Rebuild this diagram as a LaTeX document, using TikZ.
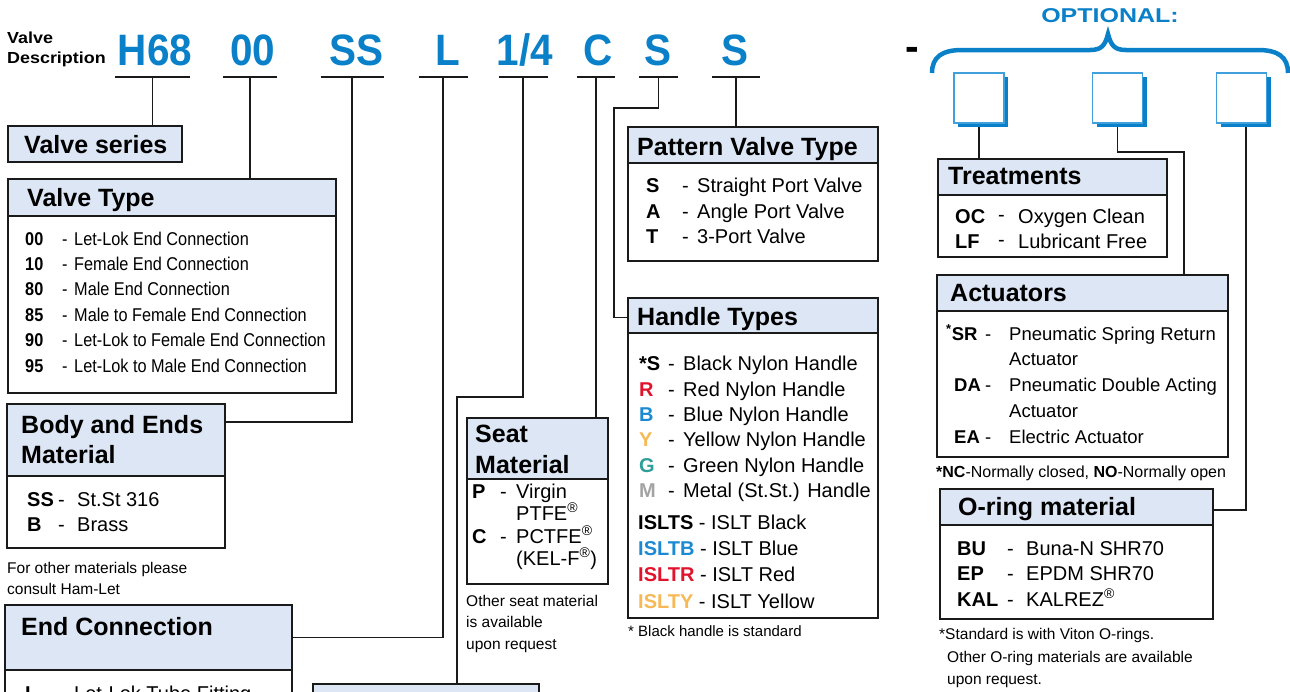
\documentclass[tikz,border=0pt]{standalone}
\usepackage{fontspec}
\setmainfont{Liberation Sans}
\newfontfamily\narrowfont[FakeStretch=0.88]{Liberation Sans}
\newfontfamily\codefont[FakeStretch=0.92]{Liberation Sans}
\usetikzlibrary{calc}
\definecolor{hdrblue}{HTML}{DCE6F4}
\definecolor{codeblue}{HTML}{0A80C8}
\definecolor{sqlight}{HTML}{3FA0DC}
\definecolor{linec}{HTML}{1A1A1A}
\definecolor{hred}{HTML}{E2142D}
\definecolor{hblue}{HTML}{1C8AD2}
\definecolor{hyellow}{HTML}{F6B955}
\definecolor{hgreen}{HTML}{2E9E9A}
\definecolor{hgray}{HTML}{A3A3A3}
\newcommand{\fsz}[1]{\fontsize{#1}{#1}\selectfont}
\tikzset{
  boxbody/.style={draw=linec, line width=1.3pt, fill=white, anchor=north west, inner sep=0pt, outer sep=0pt},
  boxhead/.style={boxbody, fill=hdrblue},
  conn/.style={draw=linec, line width=1.3pt},
  ulinenode/.style={inner sep=0pt, outer sep=0pt, minimum height=0pt},
  ulinestroke/.style={draw=linec, line width=1.3pt},
  bigcode/.style={text=codeblue, font=\codefont\bfseries\fsz{44}, anchor=base, inner sep=0pt},
  ttl/.style={font=\bfseries\fsz{16}, anchor=base west, inner sep=0pt},
  htext/.style={font=\bfseries\fsz{25}, anchor=base west, inner sep=0pt},
  itm/.style={font=\fsz{20}, anchor=base west, inner sep=0pt},
  itmb/.style={font=\bfseries\fsz{20}, anchor=base west, inner sep=0pt},
  aitm/.style={font=\fsz{18.5}, anchor=base west, inner sep=0pt},
  aitmb/.style={font=\bfseries\fsz{18.5}, anchor=base west, inner sep=0pt},
  nitm/.style={font=\narrowfont\fsz{18.5}, anchor=base west, inner sep=0pt},
  nitmb/.style={font=\narrowfont\bfseries\fsz{18.5}, anchor=base west, inner sep=0pt},
  note/.style={font=\fsz{15.5}, anchor=base west, inner sep=0pt},
  sqshadow/.style={fill=codeblue, draw=none, inner sep=0pt, minimum width=50pt, minimum height=50pt},
  sqbox/.style={fill=white, draw=sqlight, line width=1.3pt, inner sep=0pt, minimum width=50pt, minimum height=50pt},
  bracepath/.style={draw=codeblue, line width=4.5pt}
}
\begin{document}
\begin{tikzpicture}[x=1pt,y=-1pt]
\useasboundingbox (0,0) rectangle (1290,691);
\clip (0,0) rectangle (1290,691);

% ---------- title and code line ----------
\node[ttl] (vd1) at (7,43) {\scalebox{1.12}[1]{Valve}};
\node[ttl] (vd2) at (7,63) {\scalebox{1.12}[1]{Description}};

\node[bigcode] (c1) at (155,65) {H68};
\node[bigcode] (c2) at (253,65) {00};
\node[bigcode] (c3) at (356,65) {SS};
\node[bigcode] (c4) at (448,65) {L};
\node[bigcode] (c5) at (525,65) {1/4};
\node[bigcode] (c6) at (598,65) {C};
\node[bigcode] (c7) at (658,65) {S};
\node[bigcode] (c8) at (735,65) {S};
\node[anchor=base west, font=\bfseries\fsz{41}, inner sep=0pt] (dsh) at (905,60) {-};

\node[ulinenode, minimum width=75pt] (u1) at (152.5,77) {};
\node[ulinenode, minimum width=54pt] (u2) at (250,77) {};
\node[ulinenode, minimum width=63pt] (u3) at (352,77) {};
\node[ulinenode, minimum width=49pt] (u4) at (443,77) {};
\node[ulinenode, minimum width=49pt] (u5) at (523,77) {};
\node[ulinenode, minimum width=38pt] (u6) at (596,77) {};
\node[ulinenode, minimum width=39pt] (u7) at (658.5,77) {};
\node[ulinenode, minimum width=48pt] (u8) at (736,77) {};
\foreach \u in {u1,u2,u3,u4,u5,u6,u7,u8} \draw[ulinestroke] (\u.west) -- (\u.east);

% ---------- OPTIONAL brace ----------
\node[anchor=base, text=codeblue, font=\bfseries\fsz{20}, inner sep=0pt] (opt) at (1110,22) {\scalebox{1.25}[1]{OPTIONAL:}};
\draw[bracepath] (932,73) .. controls (932,57) and (942,50) .. (962,50) -- (1090,50)
   .. controls (1101,50) and (1105,46) .. (1108,34) .. controls (1111,46) and (1115,50) .. (1126,50)
   -- (1258,50) .. controls (1278,50) and (1288,57) .. (1288,73);

% ---------- boxes (positions) ----------
\node[boxhead, minimum width=174pt, minimum height=36pt] (vs) at (8,126) {};
\node[htext] (vsT) at (24,153) {Valve series};

\node[boxbody, minimum width=328pt, minimum height=214pt] (vtB) at (8,179) {};
\node[boxhead, minimum width=328pt, minimum height=37pt] (vtH) at (8,179) {};

\node[boxbody, minimum width=218pt, minimum height=144pt] (beB) at (7,404) {};
\node[boxhead, minimum width=218pt, minimum height=72pt] (beH) at (7,404) {};

\node[boxbody, minimum width=287pt, minimum height=130pt] (ecB) at (5,605) {};
\node[boxhead, minimum width=287pt, minimum height=65pt] (ecH) at (5,605) {};

\node[boxhead, minimum width=226pt, minimum height=40pt] (bx) at (313,684) {};

\node[boxbody, minimum width=141pt, minimum height=166pt] (smB) at (467,418) {};
\node[boxhead, minimum width=141pt, minimum height=61pt] (smH) at (467,418) {};

\node[boxbody, minimum width=250pt, minimum height=134pt] (pvB) at (628,127) {};
\node[boxhead, minimum width=250pt, minimum height=36pt] (pvH) at (628,127) {};

\node[boxbody, minimum width=250pt, minimum height=320pt] (htB) at (628,298) {};
\node[boxhead, minimum width=250pt, minimum height=35pt] (htH) at (628,298) {};

\node[boxbody, minimum width=229pt, minimum height=98pt] (trB) at (938,159) {};
\node[boxhead, minimum width=229pt, minimum height=36pt] (trH) at (938,159) {};

\node[boxbody, minimum width=291pt, minimum height=182pt] (acB) at (937,275) {};
\node[boxhead, minimum width=291pt, minimum height=36pt] (acH) at (937,275) {};

\node[boxbody, minimum width=273pt, minimum height=130pt] (orB) at (940,489) {};
\node[boxhead, minimum width=273pt, minimum height=36pt] (orH) at (940,489) {};

% ---------- optional squares ----------
\node[sqshadow] (sq1s) at (983,102) {};
\node[sqbox] (sq1) at (979,98) {};
\node[sqshadow] (sq2s) at (1121.5,102) {};
\node[sqbox] (sq2) at (1117.5,98) {};
\node[sqshadow] (sq3s) at (1245.5,102) {};
\node[sqbox] (sq3) at (1241.5,98) {};

% ---------- connectors ----------
\coordinate (k5) at (523,397);
\coordinate (k5b) at (457,397);
\coordinate (k7) at (614,108);
\coordinate (k9) at (1184,152);
\draw[conn] (u1.center) -- (u1.center |- vs.north);
\draw[conn] (u2.center) -- (u2.center |- vtH.north);
\draw[conn] (u3.center) |- ([yshift=18pt]beH.east);
\draw[conn] (u4.center) |- (ecH.east);
\draw[conn] (u5.center) -- (k5) -- (k5b) -- (k5b |- bx.north);
\draw[conn] (u6.center) -- (u6.center |- smH.north);
\draw[conn] (u7.center) |- (k7) |- ([yshift=-2pt]htH.west);
\draw[conn] (u8.center) -- (u8.center |- pvH.north);
\draw[conn] (sq1s.south -| sq1.south) -- (sq1.south |- trH.north);
\draw[conn] (sq2s.south -| sq2.south) |- (k9) -- (k9 |- acH.north);
\draw[conn] ([xshift=4.5pt]sq3s.south -| sq3.south) |- ([yshift=-3pt]orH.east);

% ---------- texts: Valve Type ----------
\node[htext] (vtT) at (27,206) {Valve Type};
\foreach \b/\c/\t [count=\i] in {245/00/Let-Lok End Connection, 270.4/10/Female End Connection, 295.8/80/Male End Connection, 321.2/85/Male to Female End Connection, 346.6/90/Let-Lok to Female End Connection, 372/95/Let-Lok to Male End Connection} {
  \node[nitmb] (vtc\i) at (25,\b) {\c};
  \node[nitm] (vtd\i) at (62,\b) {-};
  \node[nitm] (vtt\i) at (74,\b) {\t};
}

% ---------- Body and Ends ----------
\node[htext] (beT1) at (21,433) {Body and Ends};
\node[htext] (beT2) at (21,463) {Material};
\node[itmb] (bec1) at (27,506) {SS};
\node[itm] (bed1) at (58,506) {-};
\node[itm] (bet1) at (77,506) {St.St 316};
\node[itmb] (bec2) at (27,531) {B};
\node[itm] (bed2) at (58,531) {-};
\node[itm] (bet2) at (77,531) {Brass};
\node[note] (ben1) at (7,573) {For other materials please};
\node[note] (ben2) at (7,594) {consult Ham-Let};

% ---------- End Connection ----------
\node[htext] (ecT) at (21,635) {End Connection};
\node[itmb] (ecc1) at (25,700) {L};
\node[itm] (ecd1) at (52,700) {-};
\node[itm] (ect1) at (74,700) {Let-Lok Tube Fitting};

% ---------- Seat Material ----------
\node[htext] (smT1) at (475,442) {Seat};
\node[htext] (smT2) at (475,473) {Material};
\node[itmb] (smc1) at (472,498) {P};
\node[itm] (smd1) at (500,498) {-};
\node[itm] (smt1) at (516,498) {Virgin};
\node[itm] (smt1b) at (516,520.5) {PTFE\textsuperscript{®}};
\node[itmb] (smc2) at (472,543) {C};
\node[itm] (smd2) at (500,543) {-};
\node[itm] (smt2) at (516,543) {PCTFE\textsuperscript{®}};
\node[itm] (smt2b) at (516,565.5) {(KEL-F\textsuperscript{®})};
\node[note] (smn1) at (466,606) {Other seat material};
\node[note] (smn2) at (466,627) {is available};
\node[note] (smn3) at (466,649) {upon request};

% ---------- Pattern Valve Type ----------
\node[htext] (pvT) at (637,155) {Pattern Valve Type};
\foreach \b/\c/\t [count=\i] in {192/S/Straight Port Valve, 218/A/Angle Port Valve, 243/T/3-Port Valve} {
  \node[itmb] (pvc\i) at (646,\b) {\c};
  \node[itm] (pvd\i) at (682,\b) {-};
  \node[itm] (pvt\i) at (697,\b) {\t};
}

% ---------- Handle Types ----------
\node[htext] (htT) at (637,325) {Handle Types};
\foreach \b/\col/\c/\t [count=\i] in {370/black/*S/Black Nylon Handle, 396/hred/R/Red Nylon Handle, 421/hblue/B/Blue Nylon Handle, 446.5/hyellow/Y/Yellow Nylon Handle, 472/hgreen/G/Green Nylon Handle, 497.5/hgray/M/Metal (St.St.) Handle} {
  \node[itmb, text=\col] (htc\i) at (639,\b) {\c};
  \node[itm] (htd\i) at (668,\b) {-};
  \node[itm] (htt\i) at (683,\b) {\t};
}
\node[itm] (hti1) at (638,529) {\textbf{ISLTS} - ISLT Black};
\node[itm] (hti2) at (638,555.5) {\textcolor{hblue}{\textbf{ISLTB}} - ISLT Blue};
\node[itm] (hti3) at (638,581.5) {\textcolor{hred}{\textbf{ISLTR}} - ISLT Red};
\node[itm] (hti4) at (638,608) {\textcolor{hyellow}{\textbf{ISLTY}} - ISLT Yellow};
\node[note, font=\fsz{15}] (htn) at (628,636) {* Black handle is standard};

% ---------- Treatments ----------
\node[htext] (trT) at (948,184) {Treatments};
\node[itmb] (trc1) at (955,223) {OC};
\node[itm] (trd1) at (998,221) {-};
\node[itm] (trt1) at (1018,223) {Oxygen Clean};
\node[itmb] (trc2) at (955,248) {LF};
\node[itm] (trd2) at (998,246) {-};
\node[itm] (trt2) at (1018,248) {Lubricant Free};

% ---------- Actuators ----------
\node[htext] (acT) at (950,301) {Actuators};
\node[aitmb] (acc1) at (946,340) {\textsuperscript{*}SR};
\node[aitm] (acd1) at (985,340) {-};
\node[aitm] (act1) at (1009,340) {Pneumatic Spring Return};
\node[aitm] (act1b) at (1009,365.5) {Actuator};
\node[aitmb] (acc2) at (954,391) {DA};
\node[aitm] (acd2) at (985,391) {-};
\node[aitm] (act2) at (1009,391) {Pneumatic Double Acting};
\node[aitm] (act2b) at (1009,417) {Actuator};
\node[aitmb] (acc3) at (954,443) {EA};
\node[aitm] (acd3) at (985,443) {-};
\node[aitm] (act3) at (1009,443) {Electric Actuator};
\node[note, font=\fsz{16}] (acn) at (936,477) {\textbf{*NC}-Normally closed, \textbf{NO}-Normally open};

% ---------- O-ring material ----------
\node[htext] (orT) at (958,515) {O-ring material};
\foreach \b/\c/\t [count=\i] in {555/BU/Buna-N SHR70, 580/EP/EPDM SHR70, 606/KAL/KALREZ\textsuperscript{®}} {
  \node[itmb] (orc\i) at (957,\b) {\c};
  \node[itm] (ord\i) at (1007,\b) {-};
  \node[itm] (ort\i) at (1026,\b) {\t};
}
\node[note] (orn1) at (939,639) {*Standard is with Viton O-rings.};
\node[note] (orn2) at (947,662) {Other O-ring materials are available};
\node[note] (orn3) at (947,684) {upon request.};
\end{tikzpicture}
\end{document}
